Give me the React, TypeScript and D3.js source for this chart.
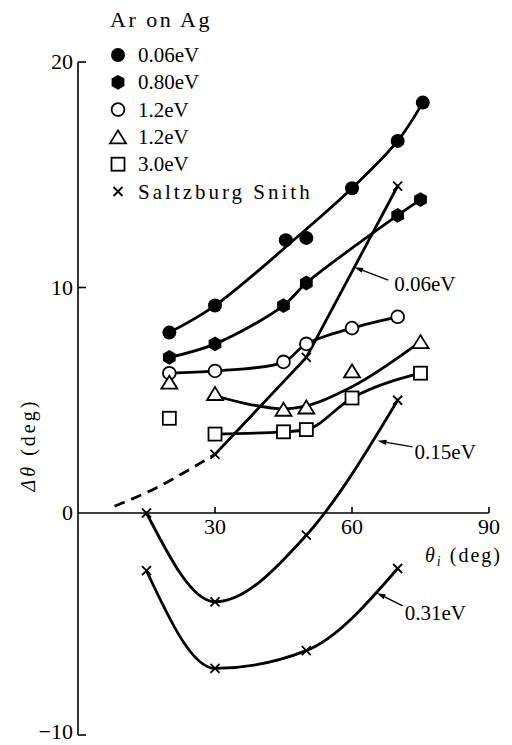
import React from 'react';
import * as d3 from 'd3';

// ---------- data ----------
const xTickValues = [30, 60, 90];
const yTickValues = [20, 10, 0, -10];

// Ar on Ag
const ev006 = [[20, 8.0], [30, 9.2], [45.5, 12.1], [50, 12.2], [60, 14.4], [70, 16.5], [75.5, 18.2]];
const ev080 = [[20, 6.9], [30, 7.5], [45, 9.2], [50, 10.2], [70, 13.2], [75, 13.9]];
const ev12c = [[20, 6.2], [30, 6.3], [45, 6.7], [50, 7.5], [60, 8.2], [70, 8.7]];
const ev12t = [[20, 5.8], [30, 5.3], [45, 4.6], [50, 4.7], [60, 6.3], [75, 7.6]];
const ev30 = [[20, 4.2], [30, 3.5], [45, 3.6], [50, 3.7], [60, 5.1], [75, 6.2]];

// fitted lines (pass-through points)
const ev006Line = [[20, 8.0], [30, 9.2], [47.5, 12.15], [60, 14.4], [70, 16.5], [75.5, 18.2]];
const ev12tLine = [[30, 5.2], [38, 4.8], [45, 4.62], [50, 4.75], [60, 5.6], [75, 7.6]];
const ev30Line = [[30, 3.5], [45, 3.6], [50, 3.7], [60, 5.1], [75, 6.2]];

// Saltzburg Smith
const ss006Dashed = [[8, 0.3], [17, 1.1], [25, 2.0], [30, 2.6]];
const ss006 = [[30, 2.6], [50, 6.9], [70, 14.5]];
const ss015 = [[15, 0], [30, -4.0], [50, -1.0], [70, 5.0]];
const ss031 = [[15, -2.6], [30, -7.0], [50, -6.2], [70, -2.5]];

const legendItems = [
  { kind: 'dot', label: '0.06eV' },
  { kind: 'hex', label: '0.80eV' },
  { kind: 'ring', label: '1.2eV' },
  { kind: 'tri', label: '1.2eV' },
  { kind: 'sq', label: '3.0eV' },
  { kind: 'x', label: 'Saltzburg Snith' },
];

const annotations = [
  { label: '0.06eV', at: [60.5, 10.9], tail: [34, 13], text: [40, 24] },
  { label: '0.15eV', at: [65.6, 3.2], tail: [35, 6], text: [37, 18] },
  { label: '0.31eV', at: [65.4, -3.6], tail: [26, 13], text: [28, 27] },
];

// ---------- layout ----------
const W = 512;
const H = 745;
const FONT = '"Liberation Serif", "DejaVu Serif", serif';

const x = d3.scaleLinear().domain([0, 90]).range([78, 489]);
const y = d3.scaleLinear().domain([-10, 0, 20]).range([735, 513, 62]);

const lineLinear = d3.line<number[]>().x(d => x(d[0])).y(d => y(d[1]));
const lineMono = d3
  .line<number[]>()
  .x(d => x(d[0]))
  .y(d => y(d[1]))
  .curve(d3.curveMonotoneX);
const lineSmooth = d3
  .line<number[]>()
  .x(d => x(d[0]))
  .y(d => y(d[1]))
  .curve(d3.curveCatmullRom.alpha(0.5));

function Marker({ kind, cx, cy }: { kind: string; cx: number; cy: number }) {
  const sw = 1.8;
  if (kind === 'dot') return <circle cx={cx} cy={cy} r={7} fill="#000" />;
  if (kind === 'hex') {
    const r = 7.4;
    const pts = d3.range(6).map(i => {
      const a = Math.PI / 2 + (i * Math.PI) / 3;
      return [cx + r * Math.cos(a), cy + r * Math.sin(a)].join(',');
    });
    return <polygon points={pts.join(' ')} fill="#000" />;
  }
  if (kind === 'ring')
    return <circle cx={cx} cy={cy} r={6.4} fill="#fff" stroke="#000" strokeWidth={sw} />;
  if (kind === 'tri') {
    const w = 8, h = 6.5;
    const pts = `${cx},${cy - h} ${cx - w},${cy + h} ${cx + w},${cy + h}`;
    return <polygon points={pts} fill="#fff" stroke="#000" strokeWidth={sw} strokeLinejoin="miter" />;
  }
  if (kind === 'sq') {
    const s = 6.5;
    return <rect x={cx - s} y={cy - s} width={2 * s} height={2 * s} fill="#fff" stroke="#000" strokeWidth={sw} />;
  }
  const s = 4.5;
  return (
    <path
      d={`M${cx - s},${cy - s}L${cx + s},${cy + s}M${cx - s},${cy + s}L${cx + s},${cy - s}`}
      stroke="#000"
      strokeWidth={1.8}
      fill="none"
    />
  );
}

function Arrow({ x1, y1, x2, y2 }: { x1: number; y1: number; x2: number; y2: number }) {
  const ang = Math.atan2(y2 - y1, x2 - x1);
  const L = 9, hw = 2.6;
  const bx = x2 - L * Math.cos(ang);
  const by = y2 - L * Math.sin(ang);
  const px = -Math.sin(ang) * hw;
  const py = Math.cos(ang) * hw;
  return (
    <g>
      <line x1={x1} y1={y1} x2={bx} y2={by} stroke="#000" strokeWidth={1.4} />
      <polygon points={`${x2},${y2} ${bx + px},${by + py} ${bx - px},${by - py}`} fill="#000" />
    </g>
  );
}

export default function App() {
  const lineStyle = { fill: 'none', stroke: '#000', strokeWidth: 2.8, strokeLinecap: 'round' as const };
  const series = [
    { data: ev006, kind: 'dot' },
    { data: ev080, kind: 'hex' },
    { data: ev12c, kind: 'ring' },
    { data: ev12t, kind: 'tri' },
    { data: ev30, kind: 'sq' },
  ];
  const ssPoints = [...ss006, ...ss015, ...ss031];

  return (
    <svg
      width={W}
      height={H}
      viewBox={`0 0 ${W} ${H}`}
      style={{ position: 'absolute', left: 0, top: 0, background: '#fff' }}
      fontFamily={FONT}
    >
      <rect width={W} height={H} fill="#fff" />

      {/* axes */}
      <g stroke="#000" strokeWidth={1.6} fill="none">
        <line x1={x(0)} y1={y(20)} x2={x(0)} y2={y(-10)} />
        <line x1={x(0)} y1={y(0)} x2={x(90)} y2={y(0)} />
        {yTickValues.filter(v => v !== 0).map(v => (
          <line key={v} x1={x(0)} y1={y(v)} x2={x(0) + 8} y2={y(v)} />
        ))}
        {xTickValues.map(v => (
          <line key={v} x1={x(v)} y1={y(0)} x2={x(v)} y2={y(0) - 6} />
        ))}
      </g>
      {yTickValues.map(v => (
        <text key={v} x={x(0) - 5} y={y(v) + (v < 0 ? 4 : 7)} fontSize={22} textAnchor="end">
          {v < 0 ? `\u2212${Math.abs(v)}` : v}
        </text>
      ))}
      {xTickValues.map(v => (
        <text key={v} x={x(v)} y={y(0) + 21} fontSize={22} textAnchor="middle">
          {v}
        </text>
      ))}

      {/* axis titles */}
      <text x={425} y={562} fontSize={20} letterSpacing={2}>
        <tspan fontStyle="italic">θ</tspan>
        <tspan fontStyle="italic" fontSize={14} dy={4}>i</tspan>
        <tspan dy={-4}>{'  (deg)'}</tspan>
      </text>
      <text
        transform="translate(35,445) rotate(-90)"
        fontSize={20}
        textAnchor="middle"
        letterSpacing={3}
      >
        <tspan fontStyle="italic">Δθ</tspan>
        <tspan>{'  (deg)'}</tspan>
      </text>

      {/* lines for Ar on Ag */}
      <path d={lineSmooth(ev006Line) || ''} {...lineStyle} />
      <path d={lineSmooth(ev080) || ''} {...lineStyle} />
      <path d={lineSmooth(ev12c) || ''} {...lineStyle} />
      <path d={lineMono(ev12tLine) || ''} {...lineStyle} />
      <path d={lineMono(ev30Line) || ''} {...lineStyle} />

      {/* Saltzburg Smith curves */}
      <path d={lineMono(ss006Dashed) || ''} {...lineStyle} strokeDasharray="11 7" strokeLinecap="butt" />
      <path d={lineLinear(ss006) || ''} {...lineStyle} />
      <path d={lineMono(ss015) || ''} {...lineStyle} />
      <path d={lineMono(ss031) || ''} {...lineStyle} />

      {/* markers */}
      {series.map(s =>
        s.data.map((d, i) => <Marker key={s.kind + i} kind={s.kind} cx={x(d[0])} cy={y(d[1])} />)
      )}
      {ssPoints.map((d, i) => (
        <Marker key={'x' + i} kind="x" cx={x(d[0])} cy={y(d[1])} />
      ))}

      {/* annotations */}
      {annotations.map(a => {
        const tx = x(a.at[0]);
        const ty = y(a.at[1]);
        return (
          <g key={a.label}>
            <Arrow x1={tx + a.tail[0]} y1={ty + a.tail[1]} x2={tx} y2={ty} />
            <text x={tx + a.text[0]} y={ty + a.text[1]} fontSize={21}>
              {a.label}
            </text>
          </g>
        );
      })}

      {/* legend */}
      <text x={110} y={27} fontSize={22} letterSpacing={2.5}>
        Ar on Ag
      </text>
      {legendItems.map((it, i) => {
        const cy = 55 + i * 27.3;
        return (
          <g key={i}>
            <Marker kind={it.kind} cx={118} cy={cy} />
            <text
              x={138}
              y={cy + 7}
              fontSize={21}
              letterSpacing={it.kind === 'x' ? 3 : 0}
            >
              {it.label}
            </text>
          </g>
        );
      })}
    </svg>
  );
}
